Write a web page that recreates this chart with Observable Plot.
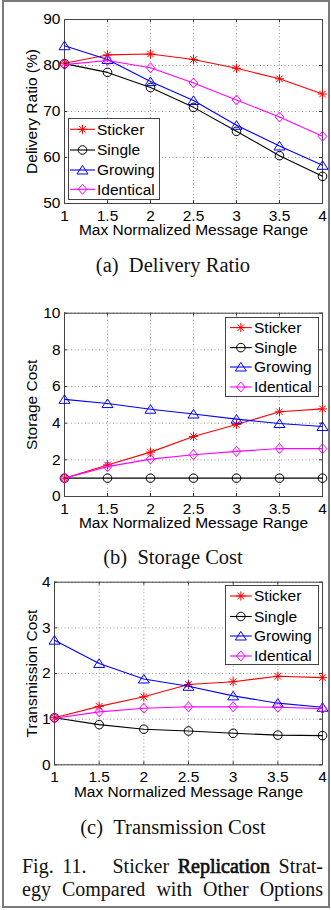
<!DOCTYPE html>
<html>
<head>
<meta charset="utf-8">
<script src="https://cdn.jsdelivr.net/npm/d3@7"></script>
<script src="https://cdn.jsdelivr.net/npm/@observablehq/plot@0.6"></script>
<style>
  html, body { margin: 0; padding: 0; background: #fff; }
  #fig { position: relative; width: 331px; height: 910px; overflow: hidden; }
  #border { position: absolute; left: 2px; top: 0px; width: 328px; height: 908px; box-sizing: border-box; border: 2px solid #7a7a7a; }
  .panel { position: absolute; left: 0; }
  .legend { position: absolute; }
  .cap { position: absolute; font-family: "Liberation Serif", "Times New Roman", serif; font-size: 20.5px; color: #111; white-space: nowrap; text-align: center; width: 300px; line-height: 24px; }
  .figcap { position: absolute; left: 22px; width: 301px; font-family: "Liberation Serif", "Times New Roman", serif; font-size: 20px; color: #111; line-height: 23px; }
  .figcap div { text-align: justify; text-align-last: justify; white-space: nowrap; }
  .figcap .bold { font-weight: normal; -webkit-text-stroke: 0.7px #111; }
</style>
</head>
<body>
<div id="fig">
  <div id="border"></div>
</div>
<script>
// ---- data ----
const xValues = [1, 1.5, 2, 2.5, 3, 3.5, 4];
const xTicks = [1, 1.5, 2, 2.5, 3, 3.5, 4];
const seriesNames = ["Sticker", "Single", "Growing", "Identical"];
const seriesColors = ["#ff0000", "#000000", "#0000ff", "#ff00ff"];

const deliverySticker   = [80.5, 82.3, 82.5, 81.3, 79.4, 77.1, 73.8];
const deliverySingle    = [80.4, 78.5, 75.2, 70.9, 65.7, 60.4, 55.9];
const deliveryGrowing   = [84.3, 81.3, 76.5, 72.4, 67.0, 62.5, 58.3];
const deliveryIdentical = [80.2, 81.1, 79.5, 76.2, 72.5, 68.8, 64.6];

const storageSticker   = [1.0, 1.72, 2.42, 3.27, 3.93, 4.62, 4.78];
const storageSingle    = [1.0, 1.0, 1.0, 1.0, 1.0, 1.0, 1.0];
const storageGrowing   = [5.3, 5.07, 4.76, 4.5, 4.22, 3.98, 3.82];
const storageIdentical = [1.0, 1.63, 2.04, 2.28, 2.46, 2.62, 2.61];

const transSticker   = [1.03, 1.28, 1.49, 1.76, 1.82, 1.94, 1.91];
const transSingle    = [1.03, 0.88, 0.78, 0.74, 0.69, 0.65, 0.64];
const transGrowing   = [2.73, 2.22, 1.88, 1.72, 1.51, 1.35, 1.26];
const transIdentical = [1.02, 1.16, 1.24, 1.27, 1.27, 1.26, 1.23];

const deliveryTicks = [50, 60, 70, 80, 90];
const storageTicks = [0, 2, 4, 6, 8, 10];
const transTicks = [0, 1, 2, 3, 4];

const xLabel = "Max Normalized Message Range";

// ---- MATLAB-like marker shapes ----
const markerStar = { draw(c) { const r = 4.6, d = r * 0.72;
  c.moveTo(0, -r); c.lineTo(0, r); c.moveTo(-r, 0); c.lineTo(r, 0);
  c.moveTo(-d, -d); c.lineTo(d, d); c.moveTo(-d, d); c.lineTo(d, -d); } };
const markerCircle = { draw(c) { const r = 4.3; c.moveTo(r, 0); c.arc(0, 0, r, 0, 2 * Math.PI); c.closePath(); } };
const markerTriangle = { draw(c) { c.moveTo(0, -4.6); c.lineTo(5.5, 4.0); c.lineTo(-5.5, 4.0); c.closePath(); } };
const markerDiamond = { draw(c) { c.moveTo(0, -5); c.lineTo(4.3, 0); c.lineTo(0, 5); c.lineTo(-4.3, 0); c.closePath(); } };
const seriesMarkers = [markerStar, markerCircle, markerTriangle, markerDiamond];

function rows(lists) {
  const out = [];
  lists.forEach((vals, i) => vals.forEach((v, j) => out.push({x: xValues[j], y: v, series: seriesNames[i]})));
  return out;
}

const FONT = "'Liberation Sans', Arial, Helvetica, sans-serif";
const fmt = d => String(d);

function makePanel({top, yDomain, yTicks, yLabel, data, marginLeft, marginTop, marginBottom, yLabelDx}) {
  const width = 331, height = 245, marginRight = 9;
  const ph = height - marginTop - marginBottom;
  const pw = width - marginLeft - marginRight;
  const tk = 3;
  const marks = [
    Plot.gridX(xTicks, {stroke: "#8a8a8a", strokeOpacity: 1, strokeDasharray: "1,2.5", strokeWidth: 0.9}),
    Plot.gridY(yTicks, {stroke: "#8a8a8a", strokeOpacity: 1, strokeDasharray: "1,2.5", strokeWidth: 0.9}),
    Plot.ruleX(xTicks, {stroke: "#333", insetTop: ph - tk}),
    Plot.ruleX(xTicks, {stroke: "#333", insetBottom: ph - tk}),
    Plot.ruleY(yTicks, {stroke: "#333", insetRight: pw - tk}),
    Plot.ruleY(yTicks, {stroke: "#333", insetLeft: pw - tk}),
    Plot.frame({stroke: "#444", strokeWidth: 1}),
    Plot.axisX(xTicks, {tickSize: 0, tickPadding: 6, label: null, tickFormat: fmt, fontSize: 15.5, fill: "#000"}),
    Plot.axisY(yTicks, {tickSize: 0, tickPadding: 4, label: null, tickFormat: fmt, fontSize: 15.5, fill: "#000"}),
  ];
  seriesNames.forEach((name, i) => {
    const d = data.filter(r => r.series === name);
    marks.push(Plot.line(d, {x: "x", y: "y", stroke: seriesColors[i], strokeWidth: 1.1}));
    marks.push(Plot.dot(d, {x: "x", y: "y", stroke: seriesColors[i], symbol: seriesMarkers[i], r: 4, strokeWidth: 1, fill: "none"}));
  });
  marks.push(Plot.text([xLabel], {frameAnchor: "bottom", dy: 27, text: d => d, textAnchor: "middle", lineAnchor: "middle", fontSize: 15.5, fill: "#000"}));
  marks.push(Plot.text([yLabel], {frameAnchor: "left", dx: yLabelDx, rotate: -90, text: d => d, textAnchor: "middle", lineAnchor: "middle", fontSize: 15.5, fill: "#000"}));
  const svg = Plot.plot({
    width, height, marginLeft, marginRight, marginTop, marginBottom,
    style: {fontFamily: FONT, fontSize: "15.5px", background: "transparent", overflow: "visible", color: "#000"},
    x: {domain: [1, 4]},
    y: {domain: yDomain},
    marks
  });
  svg.classList.add("panel");
  svg.style.top = top + "px";
  svg.style.position = "absolute";
  return svg;
}

function makeLegend({left, top, w, h, rowY, lineX1, lineX2, textX}) {
  const svg = d3.create("svg").attr("class", "legend").attr("width", w + 2).attr("height", h + 2)
    .style("left", (left - 1) + "px").style("top", (top - 1) + "px").style("overflow", "visible");
  svg.append("rect").attr("x", 1.5).attr("y", 1.5).attr("width", w - 1).attr("height", h - 1)
    .attr("fill", "#fff").attr("stroke", "#444").attr("stroke-width", 1);
  seriesNames.forEach((name, i) => {
    const y = 1 + rowY[i];
    svg.append("line").attr("x1", 1 + lineX1).attr("x2", 1 + lineX2).attr("y1", y).attr("y2", y)
      .attr("stroke", seriesColors[i]).attr("stroke-width", 1.1);
    svg.append("path").attr("d", d3.symbol(seriesMarkers[i], 50)())
      .attr("transform", `translate(${1 + (lineX1 + lineX2) / 2},${y})`)
      .attr("fill", "none").attr("stroke", seriesColors[i]).attr("stroke-width", 1);
    svg.append("text").attr("x", 1 + textX).attr("y", y).attr("dy", "0.35em")
      .attr("font-family", FONT).attr("font-size", 15.5).attr("fill", "#000").text(name);
  });
  return svg.node();
}

const fig = document.getElementById("fig");

fig.appendChild(makePanel({
  top: 0, yDomain: [50, 90], yTicks: deliveryTicks, yLabel: "Delivery Ratio (%)",
  data: rows([deliverySticker, deliverySingle, deliveryGrowing, deliveryIdentical]),
  marginLeft: 64, marginTop: 19, marginBottom: 42, yLabelDx: -32
}));
fig.appendChild(makePanel({
  top: 290, yDomain: [0, 10], yTicks: storageTicks, yLabel: "Storage Cost",
  data: rows([storageSticker, storageSingle, storageGrowing, storageIdentical]),
  marginLeft: 64, marginTop: 22.7, marginBottom: 39, yLabelDx: -32
}));
fig.appendChild(makePanel({
  top: 560, yDomain: [0, 4], yTicks: transTicks, yLabel: "Transmission Cost",
  data: rows([transSticker, transSingle, transGrowing, transIdentical]),
  marginLeft: 54, marginTop: 21.7, marginBottom: 40.7, yLabelDx: -22
}));

fig.appendChild(makeLegend({left: 68, top: 118, w: 92, h: 82, rowY: [11.3, 32, 52, 71.3], lineX1: 2, lineX2: 27, textX: 29}));
fig.appendChild(makeLegend({left: 225, top: 316.7, w: 94, h: 80, rowY: [10.6, 30.6, 50, 70], lineX1: 5, lineX2: 26.7, textX: 29}));
fig.appendChild(makeLegend({left: 225, top: 585, w: 94, h: 80, rowY: [11, 31.5, 51, 71], lineX1: 5, lineX2: 26.7, textX: 29}));

function caption(text, centerY) {
  const d = document.createElement("div");
  d.className = "cap";
  d.textContent = text;
  d.style.left = (173 - 150) + "px";
  d.style.top = (centerY - 12) + "px";
  fig.appendChild(d);
}
caption("(a)\u2002Delivery Ratio", 265);
caption("(b)\u2002Storage Cost", 556.7);
caption("(c)\u2002Transmission Cost", 826.7);

const fc = document.createElement("div");
fc.className = "figcap";
fc.style.top = (866.7 - 11.5) + "px";
fc.innerHTML = "<div>Fig. 11.&nbsp;&nbsp; Sticker <span class=\"bold\">Replication</span> Strat-</div><div>egy Compared with Other Options</div>";
fig.appendChild(fc);
</script>
</body>
</html>
